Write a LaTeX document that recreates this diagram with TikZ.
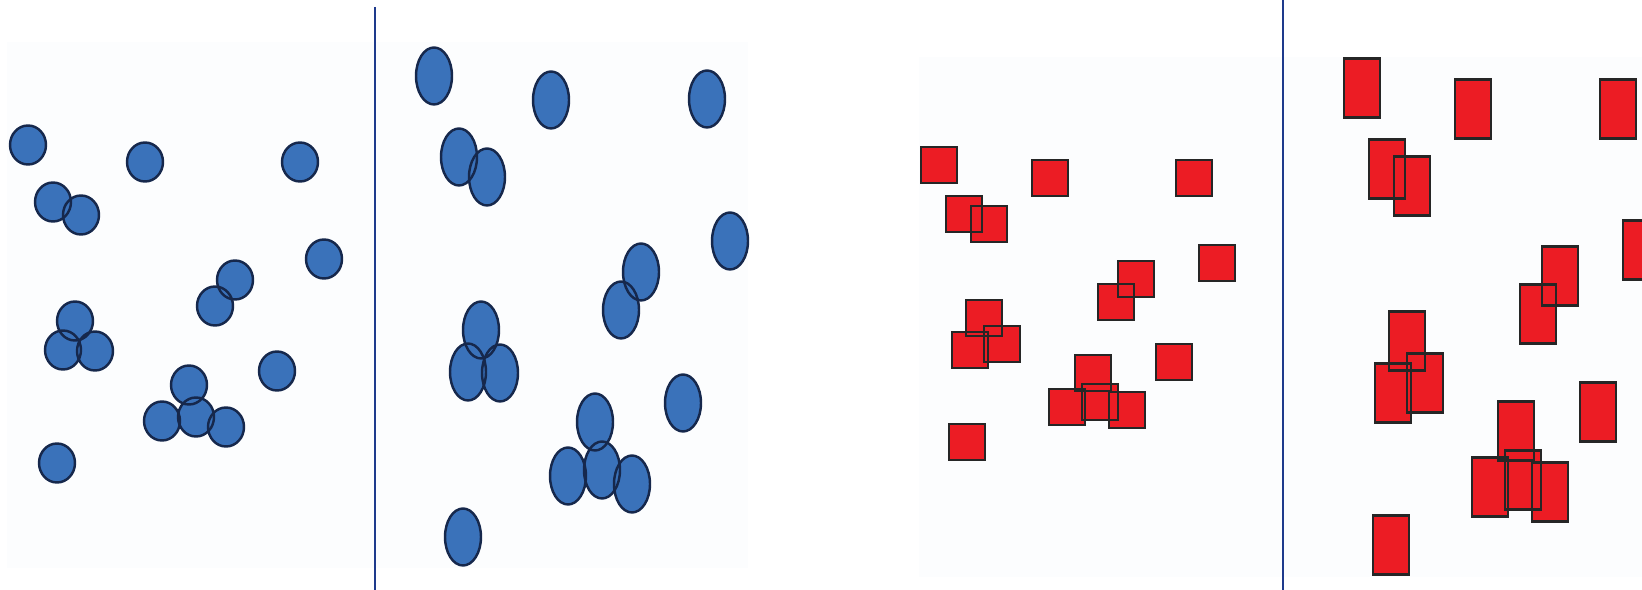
\documentclass[tikz,border=0pt]{standalone}
\usepackage{tikz}
\usetikzlibrary{shapes.geometric}
\usepackage{xcolor}
\definecolor{paper}{HTML}{FCFDFE}
\definecolor{dotblue}{HTML}{3A72BA}
\definecolor{rimblue}{HTML}{16284C}
\definecolor{boxred}{HTML}{EC1C24}
\definecolor{rimdark}{HTML}{262626}
\definecolor{rulenavy}{HTML}{1E3A8C}

\begin{document}
\begin{tikzpicture}[x=0.02cm,y=-0.02cm,
  blob/.style={ellipse,fill=dotblue,minimum width=0.72cm,minimum height=0.78cm,inner sep=0pt,outer sep=0pt},
  oval/.style={blob,minimum height=1.14cm},
  sq/.style={rectangle,fill=boxred,minimum width=0.72cm,minimum height=0.72cm,inner sep=0pt,outer sep=0pt},
  tall/.style={sq,minimum height=1.18cm},
  rim/.style={draw=rimblue,line width=1.4pt},
  boxrim/.style={draw=rimdark,line width=1.2pt},
  divider/.style={draw=rulenavy,line width=1.4pt}]

\useasboundingbox (0,0) rectangle (1642,590);
\fill[paper] (7,42) rectangle (748,568);
\fill[paper] (919,57) rectangle (1642,577);

% round particles
\foreach \n/\x/\y in {1/28/145,2/53/202,3/81/215,4/145/162,5/300/162,6/324/259,7/235/280,8/215/306,9/75/321,
  10/63/350,11/95/351,12/189/385,13/162/421,14/196/417,15/226/427,16/277/371,17/57/463}
  \node[blob] (c\n) at (\x,\y) {};
\foreach \n in {1,...,17}{\draw[rim] (c\n.center) ellipse [x radius=0.36cm,y radius=0.39cm];}

% stretched particles
\foreach \n/\x/\y in {1/434/76,2/551/100,3/707/99,4/459/157,5/487/177,6/730/241,7/641/272,8/621/310,9/481/330,
  10/468/372,11/500/373,12/595/422,13/568/476,14/602/470,15/632/484,16/683/403,17/463/537}
  \node[oval] (e\n) at (\x,\y) {};
\foreach \n in {1,...,17}{\draw[rim] (e\n.center) ellipse [x radius=0.36cm,y radius=0.57cm];}

% square particles
\foreach \n/\x/\y in {1/939/165,2/964/214,3/989/224,4/1050/178,5/1194/178,6/1217/263,7/1136/279,8/1116/302,9/984/318,
  10/970/350,11/1002/344,12/1093/373,13/1067/407,14/1100/402,15/1127/410,16/1174/362,17/967/442}
  \node[sq] (s\n) at (\x,\y) {};
\foreach \n in {1,...,17}{\draw[boxrim] (s\n.south west) rectangle (s\n.north east);}

% stretched squares
\foreach \n/\x/\y in {1/1362/88,2/1473/109,3/1618/109,4/1387/169,5/1412/186,6/1641/250,7/1560/276,8/1538/314,9/1407/341,
  10/1393/393,11/1425/383,12/1516/431,13/1490/487,14/1523/480,15/1550/492,16/1598/412,17/1391/545}
  \node[tall] (r\n) at (\x,\y) {};
\foreach \n in {1,...,17}{\draw[boxrim] (r\n.south west) rectangle (r\n.north east);}

\draw[divider] (375,7) -- (375,590);
\draw[divider] (1283,0) -- (1283,590);

\end{tikzpicture}
\end{document}
